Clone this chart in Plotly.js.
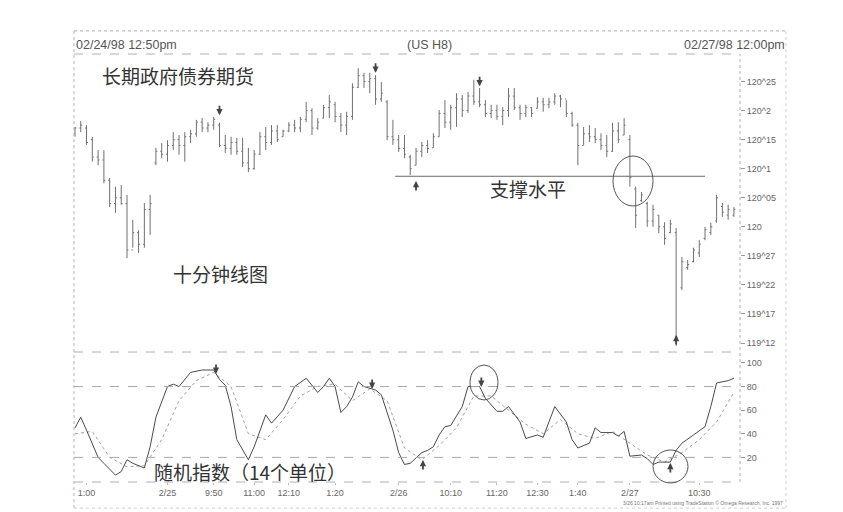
<!DOCTYPE html>
<html>
<head>
<meta charset="utf-8">
<script src="https://cdn.plot.ly/plotly-3.0.1.min.js"></script>
<style>html,body{margin:0;padding:0;background:#fff;}#chart{width:843px;height:512px;}</style>
</head>
<body>
<div id="chart"></div>
<script>
// Price bars, in 32nds above 119 (e.g. 32 = 120, 57 = 120^25)
const highs32 = [49.2,50.2,49.5,47.5,45.2,45.2,40.4,38.9,39.2,37.5,33.2,31.4,36.1,37.5,
  45.6,46.4,46.9,48.3,47.8,48.3,48.7,50.4,50.7,50.0,50.9,49.9,47.8,47.5,47.3,47.3,45.6,45.2,48.3,49.2,49.5,49.5,48.7,50.0,50.4,
  50.9,53.5,52.4,50.7,53.0,54.7,53.5,51.6,51.8,56.7,59.3,58.5,58.5,58.1,56.9,
  53.8,50.4,47.8,47.8,44.4,45.6,46.6,46.9,48.1,52.1,53.8,53.0,55.0,54.7,55.2,57.3,55.9,53.8,53.0,53.0,52.6,55.9,55.9,53.0,
  53.0,52.6,54.3,54.2,54.2,55.0,54.7,53.8,51.8,49.9,49.2,49.5,49.0,48.1,47.8,49.9,50.0,50.7,
  47.8,38.9,38.0,36.3,35.8,34.0,32.8,33.2,31.8,26.8,26.3,28.4,29.7,32.0,32.7,37.5,36.1,35.8,35.4];
const lows32 = [47.5,48.3,46.1,43.2,42.6,39.5,35.4,34.4,35.8,26.6,28.4,27.5,28.4,30.6,
  42.6,43.8,43.2,45.2,44.4,43.2,46.4,47.5,48.3,48.3,48.7,45.7,44.7,44.4,44.4,42.3,41.4,41.8,44.4,45.2,46.1,46.6,47.5,48.3,48.3,
  48.3,50.0,47.8,48.7,50.7,50.7,50.0,48.3,47.8,50.4,55.9,55.9,55.0,53.0,53.5,
  46.9,46.1,44.9,43.8,40.9,42.6,44.0,44.7,45.6,47.5,49.0,48.7,49.2,50.9,51.6,53.0,52.6,50.9,50.7,50.4,49.5,50.9,52.1,50.4,
  50.9,50.9,52.4,51.8,52.4,53.0,52.6,50.9,49.2,42.6,46.1,46.6,46.4,45.2,44.0,44.9,46.4,47.8,
  38.9,31.8,36.3,32.0,32.0,30.9,28.9,30.9,11.5,21.1,24.6,25.9,26.8,29.7,30.6,32.7,33.7,33.2,33.7];
const opens32 = [48,49,49,47,44,43.5,40,36,37,36,28,31,29,35,
  43,45,44.5,46,47,46,47.5,48,50,49,49.5,49.5,46,45.5,46.5,45,43,42,44.5,47.5,46.5,48.5,47.5,48.5,49.5,
  49,50.5,52,49,50.7,52.5,53,51,49.5,51,56,58,57,57.5,54,
  53.5,47.5,47,45.5,44,42.6,45,46,45.6,47.5,51.5,50,52.5,54,52,54.5,53.5,53,51.5,52,51,52,54.5,52.5,
  51.5,52.5,52.4,53.5,53,53.5,54.5,54,51.5,49.5,46,48,47.5,47,46,45,48.5,47.8,
  47,38.5,36.5,36,33,34,32,31,31,21.5,25,26,27.5,30,31,33,35.5,34,34];
const closes32 = [49,49.5,46.5,44,43.5,40,36,37,36,28,31,29,35,36,
  45,44.5,46,47,46,47.5,48,50,49,49.5,50.5,46,45.5,46.5,45,43,42,44.5,47.5,46.5,48.5,47,48.5,49.5,49,
  50.5,52,49,50,52.5,53.5,51,49.5,51,56,58,57,57.5,54,55,
  47.5,47,45.5,44.5,42,45,46,45.5,47.5,51.5,50,52.5,54,52,54.5,53.5,53,51.5,52,51,52,54.5,52.5,51.5,
  52.5,51.5,53.5,53,53.5,54.5,54,51.5,49.5,46,48,47.5,47,46,45,48.5,47,49.5,
  40.5,34,37.5,33,35,32,30,32.5,13,26,25.5,28,29,31.5,32,37,34.5,35,35];

// Price axis ticks
const priceTicks32 = [12,17,22,27,32,37,42,47,52,57];
const priceTickText = ['119^12','119^17','119^22','119^27','120','120^05','120^1','120^15','120^2','120^25'];
const supportLevel32 = 40.7;

// Stochastic (14 bars): %K solid, %D dotted (bar index : value)
const kIdx = [0,1,2,4,5,7,8,9,10,12,13,14,16,17,18,19,20,22,24,25,26,27,28,30,31,33,34,36,38,40,42,43,44,45,46,47,48,49,50,52,53,55,56,57,58,60,61,62,63,64,65,67,68,69,70,71,73,74,75,77,78,80,81,83,85,86,87,89,90,91,93,94,95,96,98,99,100,101,103,104,105,107,109,110,111,113,114];
const kVal = [45,54,43,20,15,5,8,18,15,11,29,54,80,82,80,86,92,94,94,86,81,63,35,18,29,56,49,60,80,87,75,80,87,80,58,63,71,84,80,77,73,43,24,14,15,24,26,29,39,46,47,63,80,80,80,70,59,59,63,50,36,39,37,63,50,35,28,32,45,41,41,38,42,21,22,19,14,16,16,26,32,39,46,63,83,85,87];
const dIdx = [0,3,6,9,12,15,18,21,24,27,30,33,36,39,42,45,48,51,54,57,60,63,66,69,72,75,78,81,84,87,90,93,96,99,102,105,108,111,114];
const dVal = [40,42,20,12,13,35,68,85,92,80,40,35,52,72,80,82,68,78,68,28,18,30,45,72,72,60,48,40,52,40,36,42,32,22,16,24,35,50,75];

// Time axis labels (bar index : label)
const timeTickIdx = [2,16,24,31,37,45,56,65,73,80,87,96,108];
const timeTickText = ['1:00','2/25','9:50','11:00','12:10','1:20','2/26','10:10','11:20','12:30','1:40','2/27','10:30'];

// Marked turning points
const priceDownArrows = {idx:[25,52,70], val:[51.2,58.5,56.2]};
const priceUpArrows = {idx:[59,104], val:[39.9,13.4]};
const stochDownArrows = {idx:[24.4,51.4,70.3], val:[90.7,78,79.7]};
const stochUpArrows = {idx:[60.2,103], val:[17.8,15.3]};

const barX = highs32.map((_, i) => i);
const gray = '#707070';

const traces = [
  {type:'ohlc', x:barX, open:opens32, high:highs32, low:lows32, close:closes32,
   xaxis:'x', yaxis:'y', tickwidth:0.25, hoverinfo:'skip',
   increasing:{line:{color:gray, width:1}}, decreasing:{line:{color:gray, width:1}}},
  {type:'scatter', mode:'lines', x:dIdx, y:dVal, xaxis:'x', yaxis:'y2', hoverinfo:'skip',
   line:{color:'#a0a0a0', width:1, dash:'dot'}},
  {type:'scatter', mode:'lines', x:kIdx, y:kVal, xaxis:'x', yaxis:'y2', hoverinfo:'skip',
   line:{color:'#4a4a4a', width:1}}
];

const frameC = '#b0b0b0';
const shapes = [
  // outer frame
  {type:'line', xref:'paper', yref:'paper', x0:0, x1:1.069, y0:1.054, y1:1.054, line:{color:frameC, width:1, dash:'dot'}},
  {type:'line', xref:'paper', yref:'paper', x0:0, x1:0, y0:-0.061, y1:1.054, line:{color:frameC, width:1, dash:'dot'}},
  {type:'line', xref:'paper', yref:'paper', x0:1.069, x1:1.069, y0:-0.061, y1:1.054, line:{color:'#d0d0d0', width:1, dash:'dot'}},
  {type:'line', xref:'paper', yref:'paper', x0:0, x1:1.069, y0:-0.061, y1:-0.061, line:{color:'#d0d0d0', width:1, dash:'dot'}},
  // panel borders
  {type:'line', xref:'paper', yref:'paper', x0:0, x1:1, y0:1, y1:1, line:{color:frameC, width:1, dash:'dash'}},
  {type:'line', xref:'paper', yref:'paper', x0:0, x1:1, y0:0.3037, y1:0.3037, line:{color:frameC, width:1, dash:'dash'}},
  {type:'line', xref:'paper', yref:'paper', x0:0, x1:1, y0:0, y1:0, line:{color:frameC, width:1, dash:'dash'}},
  {type:'line', xref:'paper', yref:'paper', x0:1, x1:1, y0:0, y1:1, line:{color:frameC, width:1, dash:'dot'}},
  // stochastic 80 / 20 levels
  {type:'line', xref:'paper', yref:'y2', x0:0, x1:1, y0:80, y1:80, line:{color:'#a8a8a8', width:1, dash:'dash'}},
  {type:'line', xref:'paper', yref:'y2', x0:0, x1:1, y0:20, y1:20, line:{color:'#a8a8a8', width:1, dash:'dash'}},
  // support level
  {type:'line', xref:'x', yref:'y', x0:55.4, x1:109, y0:supportLevel32, y1:supportLevel32, line:{color:'#666', width:1}},
  // circles
  {type:'circle', xref:'paper', yref:'paper', x0:0.8093, x1:0.8694, y0:0.6449, y1:0.7617, line:{color:'#555', width:1}},
  {type:'circle', xref:'paper', yref:'paper', x0:0.5946, x1:0.6366, y0:0.1916, y1:0.2734, line:{color:'#555', width:1}},
  {type:'circle', xref:'paper', yref:'paper', x0:0.8694, x1:0.9219, y0:-0.0023, y1:0.0748, line:{color:'#555', width:1}}
];

const cjk = '"Noto Sans CJK SC", "Noto Sans", sans-serif';
const lat = '"Liberation Sans", Arial, sans-serif';
const annotations = [
  {xref:'paper', yref:'paper', x:0, y:1.021, xanchor:'left', yanchor:'middle', showarrow:false,
   text:'02/24/98 12:50pm', font:{family:lat, size:12.5, color:'#555'}},
  {xref:'paper', yref:'paper', x:0.5345, y:1.021, xanchor:'center', yanchor:'middle', showarrow:false,
   text:'(US H8)', font:{family:lat, size:12.5, color:'#555'}},
  {xref:'paper', yref:'paper', x:1.0706, y:1.021, xanchor:'right', yanchor:'middle', showarrow:false,
   text:'02/27/98 12:00pm', font:{family:lat, size:12.5, color:'#555'}},
  {xref:'paper', yref:'paper', x:0.039, y:0.9486, xanchor:'left', yanchor:'middle', showarrow:false,
   text:'长期政府债券期货', font:{family:cjk, size:19, color:'#333'}},
  {xref:'paper', yref:'paper', x:0.1456, y:0.4883, xanchor:'left', yanchor:'middle', showarrow:false,
   text:'十分钟线图', font:{family:cjk, size:19, color:'#333'}},
  {xref:'paper', yref:'paper', x:0.6216, y:0.6846, xanchor:'left', yanchor:'middle', showarrow:false,
   text:'支撑水平', font:{family:cjk, size:19, color:'#333'}},
  {xref:'paper', yref:'paper', x:0.1171, y:0.0257, xanchor:'left', yanchor:'middle', showarrow:false,
   text:'随机指数（14个单位）', font:{family:cjk, size:19, color:'#333'}},
  {xref:'paper', yref:'paper', x:1.068, y:-0.05, xanchor:'right', yanchor:'middle', showarrow:false,
   text:'3/26 10:17am Printed using TradeStation © Omega Research, Inc. 1997', font:{family:lat, size:5, color:'#777'}}
];
function addArrows(set, yref, down) {
  set.idx.forEach((xi, k) => {
    annotations.push({xref:'x', yref:yref, x:xi, y:set.val[k], text:'', showarrow:true,
      arrowhead:2, arrowsize:0.7, arrowwidth:1.8, arrowcolor:'#444', ax:0, ay: down ? -11 : 11, standoff:0});
  });
}
addArrows(priceDownArrows, 'y', true);
addArrows(priceUpArrows, 'y', false);
addArrows(stochDownArrows, 'y2', true);
addArrows(stochUpArrows, 'y2', false);

const layout = {
  width:843, height:512,
  margin:{l:74, r:103, t:54, b:30},
  paper_bgcolor:'#fff', plot_bgcolor:'#fff',
  showlegend:false, hovermode:false,
  font:{family:lat, color:'#666'},
  xaxis:{domain:[0,1], range:[-0.17,115.05], anchor:'y2', rangeslider:{visible:false},
    tickmode:'array', tickvals:timeTickIdx, ticktext:timeTickText,
    tickfont:{family:lat, size:9, color:'#666'}, ticks:'outside', ticklen:2, tickcolor:'#bbb',
    showgrid:false, zeroline:false, showline:false},
  yaxis:{domain:[0.3037,1], range:[10.45,61.74], side:'right', anchor:'x',
    tickmode:'array', tickvals:priceTicks32, ticktext:priceTickText,
    tickfont:{family:lat, size:9, color:'#666'}, ticks:'outside', ticklen:4, tickcolor:'#999',
    showgrid:false, zeroline:false, showline:false},
  yaxis2:{domain:[0,0.297], range:[-0.85,106.8], side:'right', anchor:'x',
    tickmode:'array', tickvals:[20,40,60,80,100], ticktext:['20','40','60','80','100'],
    tickfont:{family:lat, size:9, color:'#666'}, ticks:'outside', ticklen:4, tickcolor:'#999',
    showgrid:false, zeroline:false, showline:false},
  shapes:shapes,
  annotations:annotations
};

Plotly.newPlot('chart', traces, layout, {staticPlot:true, displayModeBar:false});
</script>
</body>
</html>
